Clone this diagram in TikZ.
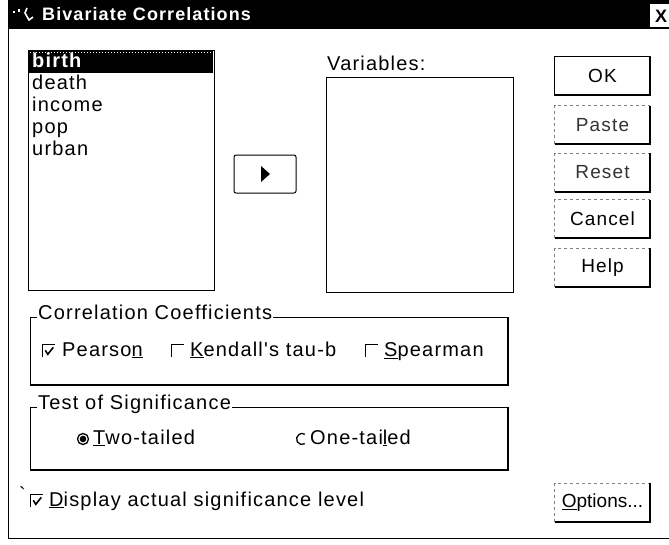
\documentclass[tikz,border=0pt]{standalone}
\usepackage{fontspec}
\setmainfont{Liberation Sans}
\newfontfamily\uifont[LetterSpace=6]{Liberation Sans}
\begin{document}
\begin{tikzpicture}[x=1pt,y=-1pt,
  txt/.style={font=\uifont\fontsize{20}{24}\selectfont, inner sep=0pt, anchor=west, text height=14.5pt, text depth=4pt},
  btnbox/.style={minimum width=95pt, minimum height=38pt, inner sep=0pt, font=\uifont\fontsize{19}{24}\selectfont},
  chkbox/.style={minimum size=12pt, inner sep=0pt},
  frame/.style={line width=1pt},
  shade/.style={line width=1.6pt},
  hiline/.style={gray, line width=0.7pt, dash pattern=on 3pt off 3pt}]
\useasboundingbox (0,0) rectangle (669,544);
\fill[white] (0,0) rectangle (669,544);
% title bar
\fill[black] (8,0) rectangle (669,29);
\node[txt, text=white, font=\uifont\bfseries\fontsize{18}{20}\selectfont] (title) at (42,15) {Bivariate Correlations};
\fill[white] (13,11) rectangle (15,13);
\fill[white] (18,9) rectangle (20,12);
\draw[white, line width=1.6pt] (27,8) -- (25,13) -- (29,20) -- (33,17);
\fill[white] (650,4) rectangle (669,27);
\node[font=\bfseries\fontsize{18}{20}\selectfont, inner sep=0pt] (close) at (661,16) {X};
% dialog outline
\draw[frame] (8,29) -- (8,538) -- (669,538);
% source list
\draw[frame] (28,50) rectangle (214,290);
\fill[black] (29,51) rectangle (213,73);
\draw[white, line width=0.6pt, dash pattern=on 1pt off 2pt] (30,52.5) -- (212,52.5);
\node[txt, text=white, font=\uifont\bfseries\fontsize{20}{24}\selectfont] (birth) at (32,62.5) {birth};
\node[txt] (death) at (32,84.5) {death};
\node[txt] (income) at (32,106.5) {income};
\node[txt] (pop) at (32,128) {pop};
\node[txt] (urban) at (32,150) {urban};
% arrow button
\node[draw, line width=1pt, rounded corners=2pt, minimum width=62pt, minimum height=38pt, inner sep=0pt] (move) at (265,174) {};
\fill[black] ([xshift=-4pt,yshift=-8pt]move.center) -- ([xshift=5pt]move.center) -- ([xshift=-4pt,yshift=8pt]move.center) -- cycle;
% variables list
\node[txt] (varlbl) at (327,65) {Variables:};
\draw[frame] (326,77) rectangle (513,292);
% buttons
\node[btnbox] (ok) at (602.5,76) {OK};
\node[btnbox, text=black!80] (paste) at (602.5,125) {Paste};
\node[btnbox, text=black!80] (reset) at (602.5,172.5) {Reset};
\node[btnbox] (cancel) at (602.5,219) {Cancel};
\node[btnbox] (help) at (602.5,267.5) {Help};
\node[btnbox, font=\fontsize{19}{24}\selectfont] (opts) at (602.5,502.5) {\underline{O}ptions...};
\foreach \b in {paste,reset,cancel,help,opts}{
  \draw[hiline] (\b.south west) -- (\b.north west) -- (\b.north east);
  \draw[shade] (\b.north east) -- (\b.south east) -- (\b.south west);
}
\draw[line width=1.2pt] (ok.north west) rectangle (ok.south east);
\draw[shade] (ok.north east) -- (ok.south east) -- (ok.south west);
% correlation coefficients group
\draw[frame] (30,317) rectangle (508,385);
\draw[shade] (508,317) -- (508,385) -- (30,385);
\node[txt, fill=white, inner xsep=1pt] (cctitle) at (37,314) {Correlation Coefficients};
\node[chkbox] (pchk) at (49,351) {};
\draw[line width=1.3pt] (pchk.south west) -- (pchk.north west) -- (pchk.north east);
\draw[line width=1.6pt] ([shift={(2.5,5.5)}]pchk.north west) -- ([shift={(5,9.5)}]pchk.north west) -- ([shift={(10.5,2.5)}]pchk.north west);
\node[txt] (pearson) at (62,351) {Pearso\underline{n}};
\node[chkbox] (kchk) at (178,351) {};
\draw[line width=1.3pt] (kchk.south west) -- (kchk.north west) -- (kchk.north east);
\node[txt] (kendall) at (190,351) {\underline{K}endall's tau-b};
\node[chkbox] (schk) at (372,351) {};
\draw[line width=1.3pt] (schk.south west) -- (schk.north west) -- (schk.north east);
\node[txt] (spearman) at (384,351) {\underline{S}pearman};
% test of significance group
\draw[frame] (30,407) rectangle (508,470);
\draw[shade] (508,407) -- (508,470) -- (30,470);
\node[txt, fill=white, inner xsep=1pt] (tstitle) at (37,404) {Test of Significance};
\node[circle, draw, line width=1.3pt, minimum size=11pt, inner sep=0pt] (tworad) at (83,439) {};
\fill (tworad.center) circle[radius=3.3pt];
\node[txt] (two) at (93,439) {\underline{T}wo-tailed};
\coordinate (onerad) at (302,439);
\draw[line width=1.3pt] (onerad) ++(60:5.5) arc[start angle=60, end angle=300, radius=5.5];
\node[txt] (one) at (310,439) {One-tai\underline{l}ed};
% display checkbox
\node[txt] (tick) at (19,496) {`};
\node[chkbox] (dchk) at (37,501) {};
\draw[line width=1.3pt] (dchk.south west) -- (dchk.north west) -- (dchk.north east);
\draw[line width=1.6pt] ([shift={(2.5,5.5)}]dchk.north west) -- ([shift={(5,9.5)}]dchk.north west) -- ([shift={(10.5,2.5)}]dchk.north west);
\node[txt] (display) at (49,501) {\underline{D}isplay actual significance level};
\end{tikzpicture}
\end{document}
